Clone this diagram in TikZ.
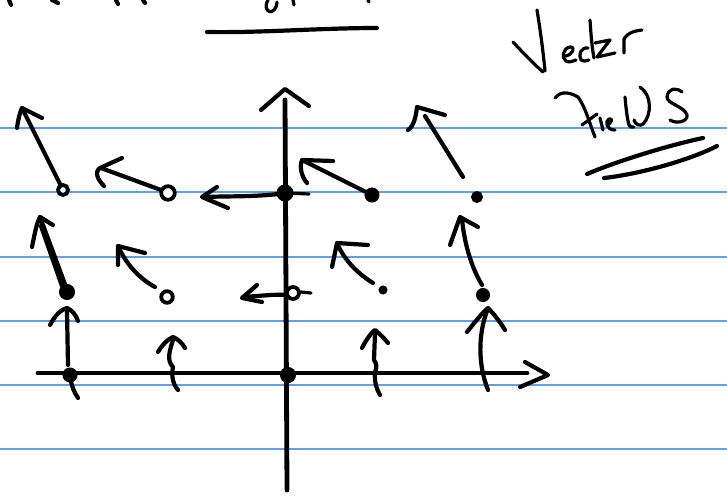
\documentclass[tikz,border=0pt]{standalone}
\usepackage{tikz}
\definecolor{ruleblue}{RGB}{95,160,230}
\tikzset{
  ink/.style={line width=4.2pt, line cap=round, line join=round, draw=black},
  axis/.style={line width=4.8pt, line cap=round, line join=round, draw=black},
  thinink/.style={line width=3.2pt, line cap=round, line join=round, draw=black},
  rule/.style={draw=ruleblue, line width=1.4pt},
  bigdot/.style={fill=black, draw=black, line width=1pt},
  ring/.style={draw=black, line width=3.8pt, fill=white}
}
\begin{document}
\begin{tikzpicture}[x=1pt,y=-1pt]
\useasboundingbox (0,0) rectangle (727,497);
\fill[white] (0,0) rectangle (727,497);

% ruled paper
\foreach \yy in {128,192,257,321,385,449}
  \draw[rule] (0,\yy) -- (727,\yy);

% heading remnants at the top edge and underline
\draw[ink] (9,0) -- (11,5);
\draw[ink] (52,0) -- (58,3);
\draw[ink] (116,0) -- (118,4);
\draw[ink] (143,0) -- (145,3);
\draw[thinink] (268,0) .. controls (261,13) and (276,17) .. (277,2);
\draw[thinink] (293,0) -- (294,5);
\draw[thinink] (368,0) -- (369,2);
\draw[ink] (207,32) .. controls (260,33) and (320,28) .. (377,28);

% title: Vector Fields
\draw[thinink] (513,42) .. controls (525,55) and (535,65) .. (543,72);
\draw[thinink] (545,71) .. controls (543,50) and (540,28) .. (537,10);
\draw[thinink] (566,56) .. controls (573,54) and (576,47) .. (570,47)
  .. controls (563,48) and (561,58) .. (566,61) .. controls (569,63) and (573,61) .. (576,60);
\draw[thinink] (588,48) .. controls (581,47) and (578,55) .. (581,60) .. controls (583,62) and (586,61) .. (589,60);
\draw[thinink] (590,20) .. controls (591,35) and (592,48) .. (594,58);
\draw[thinink] (595,43) -- (610,40) -- (597,57) -- (615,53);
\draw[thinink] (624,53) -- (624,39) .. controls (628,32) and (635,31) .. (642,30);

\draw[thinink] (555,98) .. controls (559,93) and (566,90) .. (578,97) .. controls (586,108) and (590,125) .. (595,137);
\draw[thinink] (582,125) -- (597,114);
\draw[thinink] (600,118) -- (603,130);
\draw[thinink] (607,126) .. controls (612,122) and (613,118) .. (609,119) .. controls (605,121) and (606,130) .. (615,130);
\draw[thinink] (625,97) .. controls (626,108) and (627,118) .. (629,125) .. controls (630,127) and (632,128) .. (634,127);
\draw[thinink] (640,87) .. controls (652,95) and (652,115) .. (643,124) .. controls (640,127) and (635,124) .. (634,120);
\draw[thinink] (682,92) .. controls (676,87) and (668,88) .. (667,97) .. controls (667,104) and (684,106) .. (687,115)
  .. controls (688,122) and (676,124) .. (670,120);
\draw[ink] (587,174) .. controls (620,160) and (670,145) .. (703,138);
\draw[ink] (604,178) .. controls (640,174) and (690,160) .. (717,146);

% axes
\draw[axis] (285,100) -- (287,490);
\draw[ink] (261,110) -- (285,89) -- (309,106);
\draw[axis] (38,373) -- (527,373);
\draw[ink] (525,362) -- (548,375) -- (520,387);

% base points
\fill[bigdot] (288,375) circle (7.5pt);
\fill[bigdot] (285,193) circle (8pt);

% upper row of vectors
\draw[ring] (63,190) circle (5pt);
\draw[ink] (60,184) -- (22,108);
\draw[ink] (17,128) .. controls (18,120) and (20,112) .. (22,108) -- (42,118);

\draw[ring] (168,193) circle (6.8pt);
\draw[ink] (161,190) -- (101,168);
\draw[ink] (122,158) -- (100,168) .. controls (94,172) and (98,180) .. (104,186);

\draw[ink] (285,193) .. controls (260,197) and (230,196) .. (203,197);
\draw[ink] (217,187) -- (202,197) -- (228,208);
\draw[thinink] (285,193) -- (309,194);

\filldraw[bigdot] (372,195) circle (7pt);
\draw[ink] (366,192) -- (302,160);
\draw[ink] (333,161) -- (302,160) .. controls (299,168) and (302,177) .. (307,183);

\filldraw[bigdot] (477,197) circle (5.5pt);
\draw[ink] (463,177) -- (425,116);
\draw[ink] (445,115) -- (417,107) .. controls (416,116) and (414,126) .. (408,130);

% middle row of vectors
\filldraw[bigdot] (67,292) circle (7.5pt);
\draw[ink] (66,287) -- (40,217);
\draw[ink] (62,286) -- (41,226);
\draw[ink] (32,247) .. controls (35,232) and (37,222) .. (40,217) -- (53,225);

\draw[ring] (167,297) circle (5.8pt);
\draw[ink] (155,287) .. controls (138,278) and (125,262) .. (118,246);
\draw[ink] (145,253) -- (118,246) -- (118,265);

\draw[ring] (293,293) circle (6pt);
\draw[ink] (286,295) .. controls (275,294) and (260,296) .. (243,297);
\draw[ink] (257,285) -- (242,298) -- (262,302);
\draw[thinink] (301,292) -- (311,293);

\filldraw[bigdot] (383,290) circle (4pt);
\draw[ink] (373,283) .. controls (360,275) and (345,262) .. (337,243);
\draw[ink] (368,245) -- (337,243) -- (332,267);

\filldraw[bigdot] (483,295) circle (6.5pt);
\draw[ink] (482,285) .. controls (470,265) and (464,240) .. (462,219);
\draw[ink] (478,227) -- (460,217) -- (450,245);

% vectors along the horizontal axis
\draw[ink] (50,325) .. controls (55,315) and (62,309) .. (67,308) .. controls (72,310) and (76,315) .. (78,321);
\draw[ink] (67,311) -- (68,365);
\filldraw[bigdot] (70,375) circle (7pt);
\draw[ink] (70,375) .. controls (71,385) and (74,392) .. (78,398);

\draw[ink] (158,352) .. controls (162,345) and (168,339) .. (173,337) .. controls (178,339) and (182,343) .. (185,348);
\draw[ink] (173,340) .. controls (170,350) and (166,360) .. (173,367) .. controls (172,372) and (171,382) .. (178,390);

\draw[ink] (362,348) .. controls (366,340) and (371,333) .. (375,330) .. controls (380,334) and (385,339) .. (388,343);
\draw[ink] (375,333) -- (374,360) .. controls (377,364) and (377,368) .. (375,372) .. controls (374,382) and (377,390) .. (380,395);

\draw[ink] (467,332) .. controls (475,322) and (482,313) .. (488,308) .. controls (494,314) and (500,322) .. (505,330);
\draw[ink] (487,311) .. controls (478,335) and (478,365) .. (488,390);
\end{tikzpicture}
\end{document}
